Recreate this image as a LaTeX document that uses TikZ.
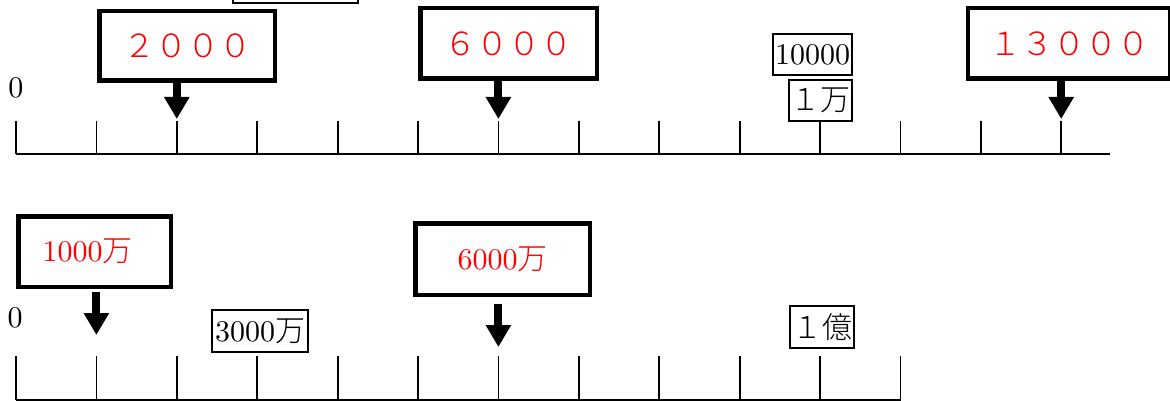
\documentclass[tikz,border=0pt]{standalone}
\usepackage{fontspec}
\setmainfont{lmroman10-regular}[Extension=.otf]
\newfontfamily\cjk{Noto Sans CJK JP Light}
\usetikzlibrary{arrows.meta}
\tikzset{
  axisline/.style={line width=1.8pt},
  tickline/.style={line width=1.8pt},
  thinbox/.style={draw, line width=1.8pt, inner sep=0pt, font=\fontsize{30}{30}\selectfont},
  thickbox/.style={draw, line width=4.5pt, inner sep=0pt, text=red, font=\fontsize{30}{30}\selectfont},
  bigarrow/.style={line width=8pt, -{Triangle[width=24pt,length=22pt]}},
  zerolabel/.style={inner sep=0pt, font=\fontsize{30}{30}\selectfont}
}
\newcommand{\jp}[1]{{\cjk\fontsize{30}{30}\selectfont #1}}
\begin{document}
\begin{tikzpicture}[x=1pt,y=-1pt]
\useasboundingbox (0,0) rectangle (1170,401);
% top axis
\coordinate (ta0) at (16,154);
\coordinate (ta1) at (1110,154);
\draw[axisline] (ta0) -- (ta1);
\foreach \i in {0,...,13} \draw[tickline] ({16+80.4*\i},121) -- ({16+80.4*\i},154);
% bottom axis
\coordinate (ba0) at (16,400);
\coordinate (ba1) at (901,400);
\draw[axisline] (ba0) -- (ba1);
\foreach \i in {0,...,11} \draw[tickline] ({16+80.4*\i},356) -- ({16+80.4*\i},400);
% zero labels
\node[zerolabel] (z1) at (16,88) {0};
\node[zerolabel] (z2) at (15,318) {0};
% partial box at top
\node[draw, line width=1.8pt, minimum width=125pt, minimum height=46pt, inner sep=0pt] (ptop) at (295.5,-20) {};
% thin label boxes
\node[thinbox, minimum width=79pt, minimum height=41pt] (b10000) at (812.5,54.5) {10000};
\node[thinbox, minimum width=63pt, minimum height=41pt] (b1man) at (820.5,100.5) {\jp{１万}};
\node[thinbox, minimum width=96pt, minimum height=42pt] (b3000man) at (260,331) {3000\jp{万}};
\node[thinbox, minimum width=64pt, minimum height=42pt] (b1oku) at (822,327) {\jp{１億}};
% thick red boxes
\node[thickbox, minimum width=175.5pt, minimum height=69.5pt, font=\cjk\fontsize{32}{32}\selectfont] (b2000) at (187,46) {２０００};
\node[thickbox, minimum width=176.5pt, minimum height=70.5pt, font=\cjk\fontsize{32}{32}\selectfont] (b6000) at (508.5,43.5) {６０００};
\node[thickbox, minimum width=202pt, minimum height=70.5pt, font=\cjk\fontsize{32}{32}\selectfont] (b13000) at (1069,43.5) {１３０００};
\node[thickbox, minimum width=152.5pt, minimum height=70.5pt] (b1000man) at (94.5,251.5) {\hspace*{-14pt}1000\jp{万}};
\node[thickbox, minimum width=174.5pt, minimum height=71.5pt] (b6000man) at (502.5,259) {6000\jp{万}};
% arrow tips
\coordinate (a1) at (176.8,119);
\coordinate (a2) at (498.4,119);
\coordinate (a3) at (1061.2,119);
\coordinate (a4) at (96.4,335);
\coordinate (a5) at (498.4,347);
\draw[bigarrow] (b2000.south -| a1) ++(0,-5) -- (a1);
\draw[bigarrow] (b6000.south -| a2) ++(0,-5) -- (a2);
\draw[bigarrow] (b13000.south -| a3) ++(0,-5) -- (a3);
\draw[bigarrow] (b1000man.south -| a4) ++(0,3) -- (a4);
\draw[bigarrow] (b6000man.south -| a5) ++(0,7) -- (a5);
\end{tikzpicture}
\end{document}
